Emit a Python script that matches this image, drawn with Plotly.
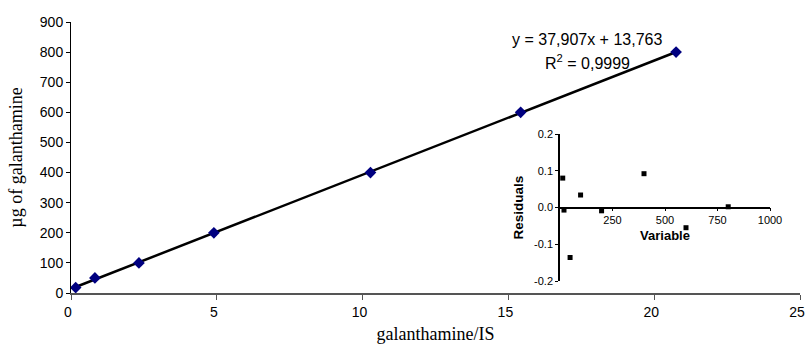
import plotly.graph_objects as go

# Calibration data (main plot)
ratio_x = [0.16, 0.82, 2.33, 4.90, 10.27, 15.42, 20.75]
amount_ug = [18, 50, 100, 200, 400, 600, 800]

# Regression parameters (as printed)
slope = 37.907
intercept = 13.763
eq_text = "y = 37,907x + 13,763"
r2_text = "R<sup>2</sup> = 0,9999"

# Residual plot data
resid_var = [13, 19, 48, 98, 198, 400, 600, 801]
resid_val = [0.080, -0.007, -0.136, 0.034, -0.009, 0.092, -0.055, 0.002]

# Tick labels
main_x_ticks = [0, 5, 10, 15, 20, 25]
main_y_ticks = [0, 100, 200, 300, 400, 500, 600, 700, 800, 900]
inset_x_ticks = [250, 500, 750, 1000]
inset_y_ticks = [0.2, 0.1, 0.0, -0.1, -0.2]
inset_y_labels = ["0.2", "0.1", "0.0", "-0.1", "-0.2"]

fit_x = [min(ratio_x), max(ratio_x)]
fit_y = [slope * v + intercept for v in fit_x]

fig = go.Figure()
fig.add_trace(go.Scatter(x=fit_x, y=fit_y, mode="lines",
                         line=dict(color="black", width=2.5),
                         showlegend=False, hoverinfo="skip"))
fig.add_trace(go.Scatter(x=ratio_x, y=amount_ug, mode="markers",
                         marker=dict(symbol="diamond", size=9, color="#000080",
                                     line=dict(width=0)),
                         showlegend=False))
fig.add_trace(go.Scatter(x=resid_var, y=resid_val, mode="markers",
                         xaxis="x2", yaxis="y2",
                         marker=dict(symbol="square", size=5, color="black"),
                         showlegend=False))

sans = "Liberation Sans, Arial, sans-serif"
serif = "Liberation Serif, Times New Roman, serif"

L, R, T, B = 71, 8, 22, 53
W, H = 808, 346
pw, ph = W - L - R, H - T - B

fig.update_layout(
    width=W, height=H,
    margin=dict(l=L, r=R, t=T, b=B, autoexpand=False),
    paper_bgcolor="white", plot_bgcolor="white",
    xaxis=dict(range=[0, 25], tickvals=main_x_ticks, showgrid=False, zeroline=False,
               automargin=False, ticklabelshift=-3,
               showline=True, linecolor="#555555", linewidth=2,
               ticks="outside", ticklen=5, tickcolor="#555555", tickwidth=1,
               tickfont=dict(family=sans, size=14, color="black"),
               title=dict(text="galanthamine/IS", standoff=9,
                          font=dict(family=serif, size=18, color="black"))),
    yaxis=dict(range=[0, 900], tickvals=main_y_ticks, showgrid=False, zeroline=False,
               automargin=False,
               showline=True, linecolor="black", linewidth=1,
               ticks="outside", ticklen=4, tickcolor="black",
               tickfont=dict(family=sans, size=14, color="black"),
               title=dict(text="µg of galanthamine", standoff=12,
                          font=dict(family=serif, size=18, color="black"))),
    xaxis2=dict(domain=[(560 - L) / pw, (770 - L) / pw], range=[0, 1000], anchor="free",
                position=(H - B - 207.5) / ph, tickvals=inset_x_ticks, showgrid=False,
                automargin=False,
                zeroline=False, showline=True, linecolor="black", linewidth=1.5,
                ticks="outside", ticklen=3, tickcolor="black",
                tickfont=dict(family=sans, size=11, color="black"),
                title=dict(text="<b>Variable</b>", standoff=4,
                           font=dict(family=sans, size=13, color="black"))),
    yaxis2=dict(domain=[(H - B - 281) / ph, (H - B - 134) / ph], range=[-0.2, 0.2],
                anchor="x2", automargin=False,
                tickvals=inset_y_ticks, ticktext=inset_y_labels, showgrid=False,
                zeroline=False, showline=True, linecolor="black", linewidth=1.5,
                ticks="outside", ticklen=3, tickcolor="black",
                tickfont=dict(family=sans, size=11, color="black"),
                title=dict(text="<b>Residuals</b>", standoff=7,
                           font=dict(family=sans, size=13.5, color="black"))),
    annotations=[
        dict(text=eq_text, xref="paper", yref="paper",
             x=(587 - L) / pw, y=(H - B - 39.5) / ph, showarrow=False,
             xanchor="center", yanchor="middle",
             font=dict(family=sans, size=16, color="black")),
        dict(text=r2_text, xref="paper", yref="paper",
             x=(587 - L) / pw, y=(H - B - 62) / ph, showarrow=False,
             xanchor="center", yanchor="middle",
             font=dict(family=sans, size=16, color="black")),
    ],
)

fig.write_html("out.html",
               config={"displayModeBar": False},
               post_script="document.body.style.margin='0';"
                           "document.body.style.overflow='hidden';")
